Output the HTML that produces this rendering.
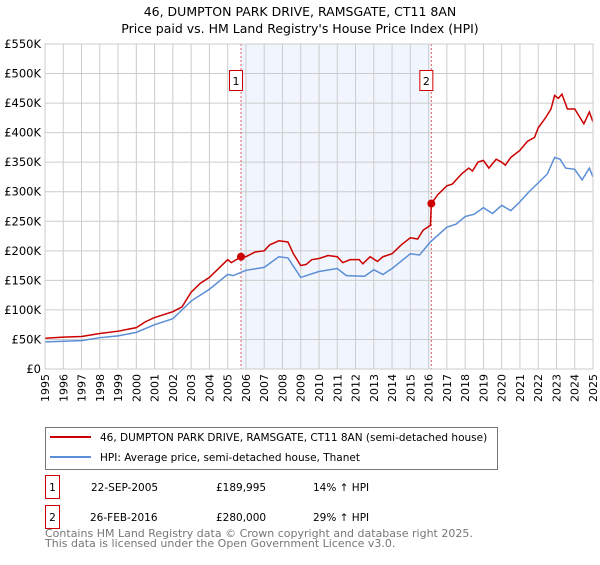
<!DOCTYPE html>
<html><head><meta charset="utf-8"><style>
body{margin:0;background:#fff;font-family:"Liberation Sans","DejaVu Sans",sans-serif;}
</style></head><body>
<svg width="600" height="560" xmlns="http://www.w3.org/2000/svg" font-family="DejaVu Sans, Liberation Sans, sans-serif">
<text x="300" y="16" text-anchor="middle" font-size="12.5">46, DUMPTON PARK DRIVE, RAMSGATE, CT11 8AN</text>
<text x="300" y="33" text-anchor="middle" font-size="12.5">Price paid vs. HM Land Registry's House Price Index (HPI)</text>
<g id="plot"></g>
<g>
<rect x="45.5" y="427.5" width="452" height="42" fill="#fff" stroke="#777"/>
<line x1="50" y1="437" x2="91" y2="437" stroke="#cc0000" stroke-width="2"/>
<text x="100" y="441" font-size="10.5">46, DUMPTON PARK DRIVE, RAMSGATE, CT11 8AN (semi-detached house)</text>
<line x1="50" y1="457" x2="91" y2="457" stroke="#5b8ed6" stroke-width="2"/>
<text x="100" y="461" font-size="10.5">HPI: Average price, semi-detached house, Thanet</text>
</g>
<g font-size="10.5">
<rect x="45.5" y="475.5" width="14" height="23" fill="#fff" stroke="#cc0000"/>
<text x="52.5" y="491" text-anchor="middle">1</text>
<text x="91" y="491">22-SEP-2005</text><text x="216" y="491">£189,995</text><text x="313" y="491">14% ↑ HPI</text>
<rect x="45.5" y="505.5" width="14" height="23" fill="#fff" stroke="#cc0000"/>
<text x="52.5" y="521" text-anchor="middle">2</text>
<text x="90" y="521">26-FEB-2016</text><text x="216" y="521">£280,000</text><text x="313" y="521">29% ↑ HPI</text>
</g>
<text x="45" y="537" font-size="11" fill="#777">Contains HM Land Registry data © Crown copyright and database right 2025.</text>
<text x="45" y="547" font-size="11" fill="#777">This data is licensed under the Open Government Licence v3.0.</text>
</svg>
<script>
const yearTicks=[1995,1996,1997,1998,1999,2000,2001,2002,2003,2004,2005,2006,2007,2008,2009,2010,2011,2012,2013,2014,2015,2016,2017,2018,2019,2020,2021,2022,2023,2024,2025];
const valueTicks=[0,50000,100000,150000,200000,250000,300000,350000,400000,450000,500000,550000];
const valueLabels=["£0","£50K","£100K","£150K","£200K","£250K","£300K","£350K","£400K","£450K","£500K","£550K"];
const redT=[1995,1996,1997,1998,1999,2000,2000.5,2001,2002,2002.5,2003,2003.5,2004,2004.5,2005,2005.2,2005.73,2006,2006.5,2007,2007.3,2007.8,2008.3,2008.6,2009,2009.3,2009.6,2010,2010.5,2011,2011.3,2011.7,2012.2,2012.4,2012.8,2013.2,2013.5,2014,2014.5,2015,2015.4,2015.7,2016.1,2016.15,2016.5,2017,2017.3,2017.8,2018.2,2018.4,2018.7,2019,2019.3,2019.7,2020,2020.2,2020.5,2021,2021.4,2021.8,2022,2022.4,2022.7,2022.9,2023.1,2023.3,2023.6,2024,2024.2,2024.5,2024.8,2025];
const redV=[52,54,55,60,64,70,80,87,97,105,130,145,155,170,185,180,190,190,198,200,210,217,215,195,175,177,185,187,192,190,180,185,185,178,190,182,190,195,210,222,220,235,243,280,295,310,313,330,340,335,350,353,340,355,350,345,358,370,385,392,408,425,440,463,458,465,440,440,430,415,435,418];
const blueT=[1995,1997,1998,1999,2000,2001,2002,2003,2004,2005,2005.3,2006,2007,2007.8,2008.3,2009,2010,2011,2011.5,2012.5,2013,2013.5,2014,2015,2015.5,2016.1,2017,2017.5,2018,2018.5,2019,2019.5,2020,2020.5,2021,2021.5,2022,2022.5,2022.9,2023.2,2023.5,2024,2024.4,2024.8,2025];
const blueV=[46,48,53,56,62,75,85,115,135,160,158,167,172,190,188,155,165,170,158,157,168,160,170,195,193,215,240,245,258,262,273,263,277,268,283,300,315,330,358,355,340,338,320,340,325];
const saleT=[2005.73,2016.15];
const saleV=[189995,280000];
const L=45,R=593,T=44,B=369;
const x=t=>L+(t-1995)/30*(R-L);
const y=v=>B-v/550000*(B-T);
const NS="http://www.w3.org/2000/svg";
const g=document.getElementById('plot');
function mk(tag,a){const e=document.createElementNS(NS,tag);for(const k in a)e.setAttribute(k,a[k]);g.appendChild(e);return e;}
let e=mk('rect',{x:x(saleT[0]),y:T,width:x(saleT[1])-x(saleT[0]),height:B-T,fill:'#eef3fc',opacity:0.8});


yearTicks.forEach(t=>{const l=mk('line',{x1:x(t),x2:x(t),y1:T,y2:B,stroke:'#ccc'});


const tx=mk('text',{x:0,y:0,'font-size':11,'text-anchor':'end',transform:`translate(${x(t)+4},${B+5}) rotate(-90)`});tx.textContent=t;

});
valueTicks.forEach((v,i)=>{const l=mk('line',{x1:L,x2:R,y1:y(v),y2:y(v),stroke:'#ccc'});


const tx=mk('text',{x:L-4,y:y(v)+4,'font-size':11.5,'text-anchor':'end'});tx.textContent=valueLabels[i];

});
saleT.forEach((t,i)=>{const l=mk('line',{x1:x(t),x2:x(t),y1:T,y2:B,stroke:'#e06060','stroke-dasharray':'2,2'});


const r=mk('rect',{x:x(t)-11.5,y:70.5,width:13,height:20,fill:'#fff',stroke:'#cc0000'});


const tx=mk('text',{x:x(t)-5,y:85,'font-size':11,'text-anchor':'middle'});tx.textContent=i+1;

});
const pb=mk('polyline',{points:blueT.map((t,i)=>x(t)+','+y(blueV[i]*1000)).join(' '),fill:'none',stroke:'#5b8ed6','stroke-width':1.5});


const pr=mk('polyline',{points:redT.map((t,i)=>x(t)+','+y(redV[i]*1000)).join(' '),fill:'none',stroke:'#cc0000','stroke-width':1.5});


saleT.forEach((t,i)=>{const c=mk('circle',{cx:x(t),cy:y(saleV[i]),r:4,fill:'#cc0000'});

});
const ax=mk('rect',{x:L,y:T,width:R-L,height:B-T,fill:'none',stroke:'#ccc'});


</script>
</body></html>
